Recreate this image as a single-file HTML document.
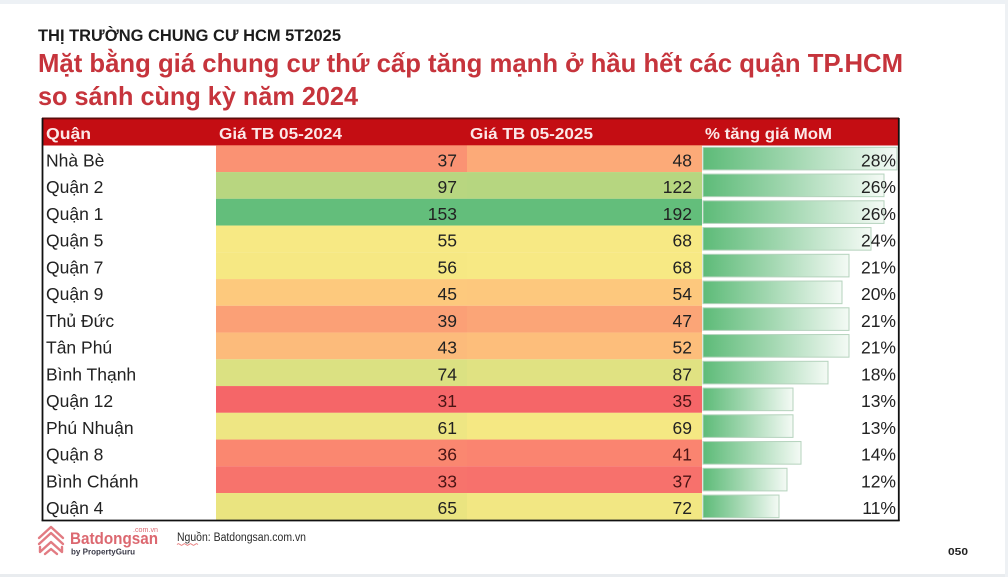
<!DOCTYPE html>
<html><head><meta charset="utf-8"><style>
html,body{margin:0;padding:0;background:#fff;}
svg{display:block;}
</style></head><body>
<svg width="1008" height="577" viewBox="0 0 1008 577" xmlns="http://www.w3.org/2000/svg" font-family="'Liberation Sans', Arial, sans-serif">
<defs>
<linearGradient id="bar" x1="0" x2="1" y1="0" y2="0">
<stop offset="0" stop-color="#5dbb78"/>
<stop offset="0.45" stop-color="#9fd6ae"/>
<stop offset="1" stop-color="#f4faf5"/>
</linearGradient>
</defs>
<rect x="0" y="0" width="1008" height="577" fill="#fff"/>
<rect x="0" y="0" width="1008" height="4" fill="#edf1f5"/>
<rect x="0" y="574" width="1008" height="3" fill="#e9ecef"/>
<rect x="1005" y="0" width="3" height="577" fill="#eef1f4"/>

<text x="38" y="41" font-size="17" font-weight="bold" fill="#1c1c1c" textLength="303" lengthAdjust="spacingAndGlyphs">THỊ TRƯỜNG CHUNG CƯ HCM 5T2025</text>
<text x="38" y="72" font-size="26" font-weight="bold" fill="#c6343c" textLength="865" lengthAdjust="spacingAndGlyphs">Mặt bằng giá chung cư thứ cấp tăng mạnh ở hầu hết các quận TP.HCM</text>
<text x="38" y="105" font-size="26" font-weight="bold" fill="#c6343c" textLength="320" lengthAdjust="spacingAndGlyphs">so sánh cùng kỳ năm 2024</text>

<!-- header -->
<rect x="42" y="118" width="857" height="27.5" fill="#c40d13"/>
<rect x="42" y="117.5" width="857" height="1.8" fill="#5e0c0c"/>
<g font-size="16" font-weight="bold" fill="#fbe8e8">
<text x="46" y="139" textLength="45" lengthAdjust="spacingAndGlyphs">Quận</text>
<text x="219" y="139" textLength="123" lengthAdjust="spacingAndGlyphs">Giá TB 05-2024</text>
<text x="470" y="139" textLength="123" lengthAdjust="spacingAndGlyphs">Giá TB 05-2025</text>
<text x="705" y="139" textLength="127" lengthAdjust="spacingAndGlyphs">% tăng giá MoM</text>
</g>

<!-- rows -->
<g font-size="17.5" fill="#222">
<!-- row 1 top 145.3 -->
<rect x="216" y="145.3" width="251" height="26.8" fill="rgb(250,146,115)"/>
<rect x="467" y="145.3" width="235" height="26.8" fill="rgb(252,170,120)"/>
<rect x="703" y="147.3" width="194" height="22.6" fill="url(#bar)" stroke="#b5d3bd" stroke-width="1"/>
<text x="46" y="166.3">Nhà Bè</text><text x="457" y="166.3" text-anchor="end">37</text><text x="692" y="166.3" text-anchor="end">48</text><text x="896" y="166.3" text-anchor="end">28%</text>

<rect x="216" y="172.05" width="251" height="26.8" fill="rgb(184,214,128)"/>
<rect x="467" y="172.05" width="235" height="26.8" fill="rgb(182,214,128)"/>
<rect x="703" y="174.05" width="181" height="22.6" fill="url(#bar)" stroke="#b5d3bd" stroke-width="1"/>
<text x="46" y="193.05">Quận 2</text><text x="457" y="193.05" text-anchor="end">97</text><text x="692" y="193.05" text-anchor="end">122</text><text x="896" y="193.05" text-anchor="end">26%</text>

<rect x="216" y="198.8" width="251" height="26.8" fill="rgb(99,190,123)"/>
<rect x="467" y="198.8" width="235" height="26.8" fill="rgb(99,190,123)"/>
<rect x="703" y="200.8" width="181" height="22.6" fill="url(#bar)" stroke="#b5d3bd" stroke-width="1"/>
<text x="46" y="219.8">Quận 1</text><text x="457" y="219.8" text-anchor="end">153</text><text x="692" y="219.8" text-anchor="end">192</text><text x="896" y="219.8" text-anchor="end">26%</text>

<rect x="216" y="225.55" width="251" height="26.8" fill="rgb(247,233,132)"/>
<rect x="467" y="225.55" width="235" height="26.8" fill="rgb(247,233,132)"/>
<rect x="703" y="227.55" width="168" height="22.6" fill="url(#bar)" stroke="#b5d3bd" stroke-width="1"/>
<text x="46" y="246.55">Quận 5</text><text x="457" y="246.55" text-anchor="end">55</text><text x="692" y="246.55" text-anchor="end">68</text><text x="896" y="246.55" text-anchor="end">24%</text>

<rect x="216" y="252.3" width="251" height="26.8" fill="rgb(246,232,131)"/>
<rect x="467" y="252.3" width="235" height="26.8" fill="rgb(247,233,132)"/>
<rect x="703" y="254.3" width="146" height="22.6" fill="url(#bar)" stroke="#b5d3bd" stroke-width="1"/>
<text x="46" y="273.3">Quận 7</text><text x="457" y="273.3" text-anchor="end">56</text><text x="692" y="273.3" text-anchor="end">68</text><text x="896" y="273.3" text-anchor="end">21%</text>

<rect x="216" y="279.05" width="251" height="26.8" fill="rgb(253,201,125)"/>
<rect x="467" y="279.05" width="235" height="26.8" fill="rgb(253,200,125)"/>
<rect x="703" y="281.05" width="139" height="22.6" fill="url(#bar)" stroke="#b5d3bd" stroke-width="1"/>
<text x="46" y="300.05">Quận 9</text><text x="457" y="300.05" text-anchor="end">45</text><text x="692" y="300.05" text-anchor="end">54</text><text x="896" y="300.05" text-anchor="end">20%</text>

<rect x="216" y="305.8" width="251" height="26.8" fill="rgb(251,160,118)"/>
<rect x="467" y="305.8" width="235" height="26.8" fill="rgb(251,165,119)"/>
<rect x="703" y="307.8" width="146" height="22.6" fill="url(#bar)" stroke="#b5d3bd" stroke-width="1"/>
<text x="46" y="326.8">Thủ Đức</text><text x="457" y="326.8" text-anchor="end">39</text><text x="692" y="326.8" text-anchor="end">47</text><text x="896" y="326.8" text-anchor="end">21%</text>

<rect x="216" y="332.55" width="251" height="26.8" fill="rgb(252,187,123)"/>
<rect x="467" y="332.55" width="235" height="26.8" fill="rgb(253,190,123)"/>
<rect x="703" y="334.55" width="146" height="22.6" fill="url(#bar)" stroke="#b5d3bd" stroke-width="1"/>
<text x="46" y="353.55">Tân Phú</text><text x="457" y="353.55" text-anchor="end">43</text><text x="692" y="353.55" text-anchor="end">52</text><text x="896" y="353.55" text-anchor="end">21%</text>

<rect x="216" y="359.3" width="251" height="26.8" fill="rgb(219,225,130)"/>
<rect x="467" y="359.3" width="235" height="26.8" fill="rgb(224,226,130)"/>
<rect x="703" y="361.3" width="125" height="22.6" fill="url(#bar)" stroke="#b5d3bd" stroke-width="1"/>
<text x="46" y="380.3">Bình Thạnh</text><text x="457" y="380.3" text-anchor="end">74</text><text x="692" y="380.3" text-anchor="end">87</text><text x="896" y="380.3" text-anchor="end">18%</text>

<rect x="216" y="386.05" width="251" height="26.8" fill="rgb(245,102,104)"/>
<rect x="467" y="386.05" width="235" height="26.8" fill="rgb(245,102,104)"/>
<rect x="703" y="388.05" width="90" height="22.6" fill="url(#bar)" stroke="#b5d3bd" stroke-width="1"/>
<text x="46" y="407.05">Quận 12</text><text x="457" y="407.05" text-anchor="end" fill="#4a1414">31</text><text x="692" y="407.05" text-anchor="end" fill="#4a1414">35</text><text x="896" y="407.05" text-anchor="end">13%</text>

<rect x="216" y="412.8" width="251" height="26.8" fill="rgb(238,230,131)"/>
<rect x="467" y="412.8" width="235" height="26.8" fill="rgb(245,232,131)"/>
<rect x="703" y="414.8" width="90" height="22.6" fill="url(#bar)" stroke="#b5d3bd" stroke-width="1"/>
<text x="46" y="433.8">Phú Nhuận</text><text x="457" y="433.8" text-anchor="end">61</text><text x="692" y="433.8" text-anchor="end">69</text><text x="896" y="433.8" text-anchor="end">13%</text>

<rect x="216" y="439.55" width="251" height="26.8" fill="rgb(250,135,112)"/>
<rect x="467" y="439.55" width="235" height="26.8" fill="rgb(250,132,112)"/>
<rect x="703" y="441.55" width="98" height="22.6" fill="url(#bar)" stroke="#b5d3bd" stroke-width="1"/>
<text x="46" y="460.55">Quận 8</text><text x="457" y="460.55" text-anchor="end" fill="#4a1414">36</text><text x="692" y="460.55" text-anchor="end" fill="#4a1414">41</text><text x="896" y="460.55" text-anchor="end">14%</text>

<rect x="216" y="466.3" width="251" height="26.8" fill="rgb(247,115,108)"/>
<rect x="467" y="466.3" width="235" height="26.8" fill="rgb(247,113,108)"/>
<rect x="703" y="468.3" width="84" height="22.6" fill="url(#bar)" stroke="#b5d3bd" stroke-width="1"/>
<text x="46" y="487.3">Bình Chánh</text><text x="457" y="487.3" text-anchor="end" fill="#4a1414">33</text><text x="692" y="487.3" text-anchor="end" fill="#4a1414">37</text><text x="896" y="487.3" text-anchor="end">12%</text>

<rect x="216" y="493.05" width="251" height="26.8" fill="rgb(234,228,128)"/>
<rect x="467" y="493.05" width="235" height="26.8" fill="rgb(242,231,131)"/>
<rect x="703" y="495.05" width="76" height="22.6" fill="url(#bar)" stroke="#b5d3bd" stroke-width="1"/>
<text x="46" y="514.05">Quận 4</text><text x="457" y="514.05" text-anchor="end">65</text><text x="692" y="514.05" text-anchor="end">72</text><text x="896" y="514.05" text-anchor="end">11%</text>
</g>

<!-- table borders -->
<line x1="42.5" y1="118" x2="42.5" y2="521" stroke="#111" stroke-width="1.8"/>
<line x1="898.8" y1="118" x2="898.8" y2="521" stroke="#111" stroke-width="1.8"/>
<line x1="41.6" y1="520.5" x2="899.7" y2="520.5" stroke="#111" stroke-width="1.8"/>

<!-- footer logo -->
<g fill="none" stroke="#e27b82" stroke-width="2.4" stroke-linejoin="round" stroke-linecap="round">
<polyline points="39,538 51,527 63,538"/>
<polyline points="39,544 51,533 63,544"/>
<polyline points="40,547 40,552 51,542 62,552 62,547"/>
<polyline points="45,554 51,549 57,554"/>
</g>
<text x="70" y="544" font-size="17" font-weight="bold" fill="#dc6870" textLength="88" lengthAdjust="spacingAndGlyphs">Batdongsan</text>
<text x="133" y="532" font-size="7" fill="#dc6870" textLength="25" lengthAdjust="spacingAndGlyphs">.com.vn</text>
<text x="71" y="554.5" font-size="8.5" font-weight="bold" fill="#3a3a48" textLength="64" lengthAdjust="spacingAndGlyphs">by PropertyGuru</text>
<text x="177" y="541" font-size="11.5" fill="#2a2a2a" textLength="129" lengthAdjust="spacingAndGlyphs">Nguồn: Batdongsan.com.vn</text>
<path d="M177,544.5 q1.5,-1.5 3,0 t3,0 t3,0 t3,0 t3,0 t3,0 t3,0" fill="none" stroke="#e05050" stroke-width="0.7"/>
<text x="948" y="555" font-size="10.5" font-weight="bold" fill="#222" textLength="20" lengthAdjust="spacingAndGlyphs">050</text>
</svg>
</body></html>
